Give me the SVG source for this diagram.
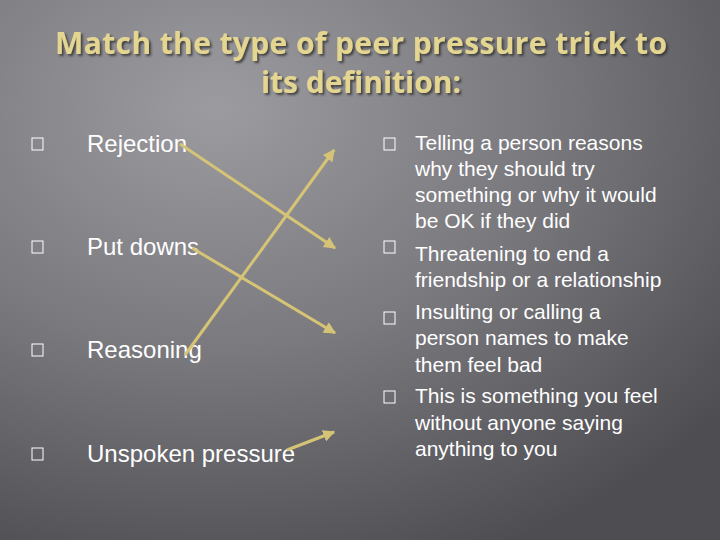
<svg xmlns="http://www.w3.org/2000/svg" width="720" height="540" viewBox="0 0 720 540">
<defs>
<radialGradient id="bg" cx="0.3" cy="0.2" r="0.9">
<stop offset="0" stop-color="#9c9ba0"/><stop offset="0.5" stop-color="#7a797e"/><stop offset="1" stop-color="#4e4d52"/>
</radialGradient>
<marker id="ah" viewBox="0 0 10 10" refX="9" refY="5" markerWidth="4" markerHeight="4" orient="auto"><path d="M0,0L10,5L0,10z" fill="#d6c476"/></marker>
<filter id="sh"><feDropShadow dx="2" dy="2" stdDeviation="1" flood-color="#333" flood-opacity="0.8"/></filter>
</defs>
<style>
.t{font-family:"Open Sans","Liberation Sans",sans-serif;font-size:30px;font-weight:bold;fill:#e4d691;text-anchor:middle}
.l{font-family:"Liberation Sans",sans-serif;font-size:24px;fill:#fff}
.r{font-family:"Liberation Sans",sans-serif;font-size:21px;fill:#fff}
.b{fill:none;stroke:#fff;stroke-width:1}
.c{stroke:#d6c476;stroke-width:3;marker-end:url(#ah)}
</style>
<rect width="720" height="540" fill="url(#bg)"/>
<g id="title" filter="url(#sh)">
<text class="t" x="361" y="54" textLength="612">Match the type of peer pressure trick to</text>
<text class="t" x="361" y="93">its definition:</text>
</g>
<g id="rejection"><rect class="b" x="32" y="138" width="11" height="12"/><text class="l" x="87" y="152">Rejection</text></g>
<g id="putdowns"><rect class="b" x="32" y="241" width="11" height="12"/><text class="l" x="87" y="255">Put downs</text></g>
<g id="reasoning"><rect class="b" x="32" y="344" width="11" height="12"/><text class="l" x="87" y="358">Reasoning</text></g>
<g id="unspoken"><rect class="b" x="32" y="448" width="11" height="12"/><text class="l" x="87" y="462">Unspoken pressure</text></g>
<g id="def1"><rect class="b" x="384" y="138" width="11" height="12"/>
<text class="r" x="415" y="150">Telling a person reasons</text><text class="r" x="415" y="176">why they should try</text><text class="r" x="415" y="202">something or why it would</text><text class="r" x="415" y="228">be OK if they did</text></g>
<g id="def2"><rect class="b" x="384" y="241" width="11" height="12"/>
<text class="r" x="415" y="261">Threatening to end a</text><text class="r" x="415" y="287">friendship or a relationship</text></g>
<g id="def3"><rect class="b" x="384" y="312" width="11" height="12"/>
<text class="r" x="415" y="319">Insulting or calling a</text><text class="r" x="415" y="345">person names to make</text><text class="r" x="415" y="372">them feel bad</text></g>
<g id="def4"><rect class="b" x="384" y="391" width="11" height="12"/>
<text class="r" x="415" y="403">This is something you feel</text><text class="r" x="415" y="430">without anyone saying</text><text class="r" x="415" y="456">anything to you</text></g>
<g id="connectors">
<line class="c" x1="180" y1="144" x2="335" y2="248"/>
<line class="c" x1="192" y1="248" x2="335" y2="333"/>
<line class="c" x1="185" y1="355" x2="334" y2="150"/>
<line class="c" x1="287" y1="450" x2="334" y2="432"/>
</g>
</svg>
